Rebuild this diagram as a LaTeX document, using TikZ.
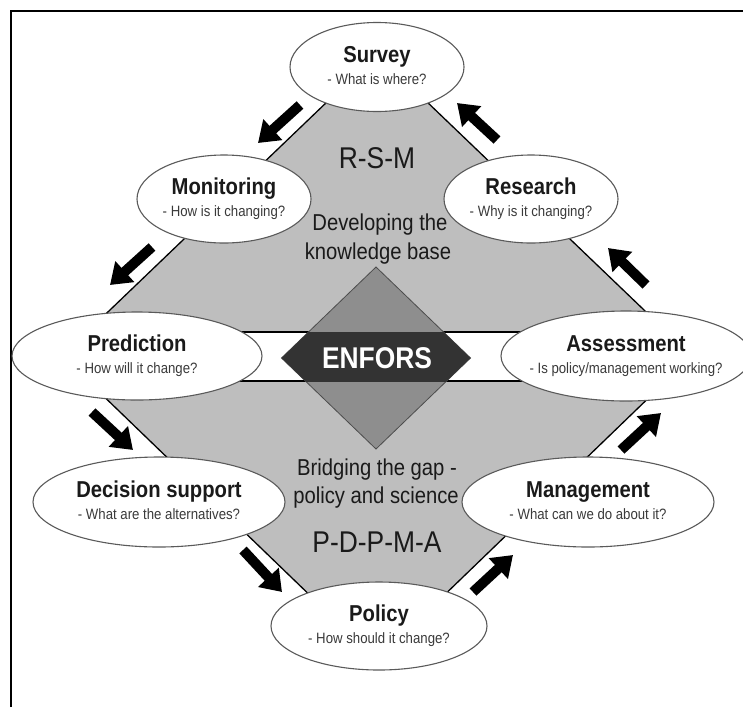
\documentclass[tikz,border=0pt]{standalone}
\usepackage{fontspec}
\setmainfont[FakeStretch=0.88]{Liberation Sans}
\usetikzlibrary{shapes.geometric,arrows.meta}
\definecolor{lgray}{HTML}{BEBEBE}
\definecolor{mgray}{HTML}{8E8E8E}
\definecolor{dkgray}{HTML}{333333}
\definecolor{ebord}{HTML}{5A5A5A}
\definecolor{ttxt}{HTML}{1A1A1A}
\definecolor{stxt}{HTML}{3A3A3A}
\newcommand\bubble[7]{%
  \node[bub, minimum width=#4pt, minimum height=#5pt] (#1) at (#2,#3) {};
  \node[ttl] (#1t) at ([yshift=5pt]#1.center) {#6};
  \node[sbt] (#1s) at ([yshift=-17pt]#1.center) {#7};
}
\begin{document}
\begin{tikzpicture}[x=1pt,y=-1pt,
  bub/.style={ellipse, draw=ebord, line width=1.1pt, fill=white, inner sep=0pt},
  ttl/.style={anchor=base, inner sep=0pt, text=ttxt, font=\fontsize{23}{27}\selectfont\bfseries},
  sbt/.style={anchor=base, inner sep=0pt, text=stxt, font=\fontsize{15}{18}\selectfont},
  midtxt/.style={anchor=base, inner sep=0pt, text=ttxt, font=\fontsize{23}{27}\selectfont},
  bigtxt/.style={anchor=base, inner sep=0pt, text=ttxt, font=\fontsize{30}{34}\selectfont},
  blk/.style={line width=10pt, draw=black, -{Triangle[length=20pt,width=27pt]}}
]
\useasboundingbox (0,0) rectangle (743,715);
\fill[white] (0,0) rectangle (743,715);
% frame
\draw[line width=2pt] (10.5,707) -- (10.5,10.5) -- (743,10.5);
% big diamond
\coordinate (dT) at (377,54);
\coordinate (dR) at (692,356);
\coordinate (dB) at (377,660);
\coordinate (dL) at (62,356);
\draw[fill=lgray, line width=1.3pt] (dT) -- (dR) -- (dB) -- (dL) -- cycle;
% white band
\draw[fill=white, line width=1.3pt] (190,332) rectangle (570,381);
% middle diamond
\coordinate (mT) at (376,267);
\coordinate (mR) at (470.5,358);
\coordinate (mB) at (376,449);
\coordinate (mL) at (281.5,358);
\draw[fill=mgray, draw=black!70, line width=0.8pt] (mT) -- (mR) -- (mB) -- (mL) -- cycle;
\begin{scope}
  \clip (0,332) rectangle (743,381);
  \fill[dkgray] (mT) -- (mR) -- (mB) -- (mL) -- cycle;
\end{scope}
\node[anchor=base, inner sep=0pt, text=white, font=\fontsize{30}{34}\selectfont\bfseries] (enf) at (377,368) {ENFORS};
% centre texts
\node[bigtxt] (rsm) at (377,168) {R-S-M};
\node[midtxt] (dev1) at (380,230) {Developing the};
\node[midtxt] (dev2) at (378,259) {knowledge base};
\node[midtxt] (bri1) at (377,475) {Bridging the gap -};
\node[midtxt] (bri2) at (376,503) {policy and science};
\node[bigtxt] (pdp) at (377,552) {P-D-P-M-A};
% bubbles
\bubble{sur}{377}{67}{174}{89}{Survey}{- What is where?}
\bubble{mon}{224}{199}{174}{88}{Monitoring}{- How is it changing?}
\bubble{res}{531}{199}{174}{88}{Research}{- Why is it changing?}
\bubble{pre}{137}{356}{250}{88}{Prediction}{- How will it change?}
\bubble{ass}{626}{356}{250}{90}{Assessment}{- Is policy/management working?}
\bubble{dec}{159}{502}{252}{90}{Decision support}{- What are the alternatives?}
\bubble{man}{588}{502}{252}{90}{Management}{- What can we do about it?}
\bubble{pol}{379}{626}{216}{88}{Policy}{- How should it change?}
% arrows
\coordinate (a1t) at (300,105); \coordinate (a1h) at (258,143);
\coordinate (a2t) at (152,247); \coordinate (a2h) at (110,285);
\coordinate (a3t) at (92,412);  \coordinate (a3h) at (133,450);
\coordinate (a4t) at (243,550); \coordinate (a4h) at (282,592);
\coordinate (a5t) at (473,592); \coordinate (a5h) at (513,555);
\coordinate (a6t) at (621,450); \coordinate (a6h) at (661,413);
\coordinate (a7t) at (646,285); \coordinate (a7h) at (608,248);
\coordinate (a8t) at (497,140); \coordinate (a8h) at (457,103);
\foreach \i in {1,...,8} { \draw[blk] (a\i t) -- (a\i h); }
\end{tikzpicture}
\end{document}
